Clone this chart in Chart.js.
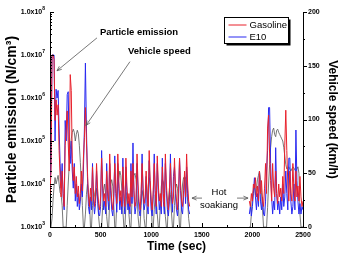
<!DOCTYPE html>
<html>
<head>
<meta charset="utf-8">
<script src="https://cdn.jsdelivr.net/npm/chart.js@4.4.1/dist/chart.umd.min.js"></script>
<style>
  html, body { margin: 0; padding: 0; background: #fff; }
  canvas { display: block; }
</style>
</head>
<body>
<canvas id="chart" width="338" height="254"></canvas>
<script>
// samples every 10 s: cold start + stabilized phase, then hot start after the soak
const coldStart = 0;
const hotStart = 1970;
const stepSec = 10;

const seriesLabels = ["Gasoline", "E10", "Vehicle speed"];

// particle number, N/cm3
const gasolineCold = [
  6e3, 2e4, 1e7, 1e7, 8e6, 3e5, 9e5, 4e5, 7e5, 6e4,
  1.5e4, 5e3, 2e4, 6e3, 3e3, 8e4, 2e5, 5e5, 9e4, 2e4,
  3.5e6, 1.5e6, 4e4, 1.2e4, 2.5e4, 6e3, 1.5e4, 5e3, 9e3, 3.5e3,
  6e3, 2e4, 7e3, 4e4, 1.2e5, 6e5, 1e5, 2e4, 5e3, 3e3,
  8e3, 4e3, 2.5e4, 6e3, 3e3, 5e3, 3e4, 8e3, 3.5e3, 2.5e3,
  5e3, 4e4, 1e4, 4e3, 6e3, 3e3, 2e4, 7e3, 4e3, 5e4,
  1e4, 4e3, 2.5e3, 6e3, 3e4, 8e3, 3.5e3, 5e4, 1.2e4, 4e3,
  7e3, 3e3, 2.5e4, 6e3, 3e3, 4e4, 9e3, 3.5e3, 6e3, 3e3,
  2e4, 5e3, 3e4, 7e3, 3e3, 4e3, 5e4, 1e4, 4e3, 2.5e3,
  6e3, 3e4, 8e3, 3.5e3, 5e3, 2e4, 5e3, 3e3, 6e4, 1.2e4,
  4e3, 2.5e3, 7e3, 3e4, 7e3, 3e3, 4.5e4, 1e4, 4e3, 6e3,
  3e3, 2.5e4, 6e3, 3e3, 5e4, 1e4, 4e3, 2.5e3, 6e3, 3e4,
  7e3, 3.5e3, 5e3, 4e4, 9e3, 4e3, 2.5e3, 6e3, 4e4, 1e4,
  4e3, 3e3, 7e3, 2e4, 5e3, 5e4, 1e4, 4e3, 3e3
];
const e10Cold = [
  8e3, 3e4, 1e7, 1e7, 1e7, 1e5, 1.6e6, 1e6, 1.5e6, 2e5,
  3e4, 8e3, 3e4, 5e3, 2.5e3, 3e5, 1e5, 1.2e6, 1.4e6, 5e4,
  3e4, 1e5, 2e4, 8e3, 3e4, 4e3, 1e4, 3e3, 6e3, 2.5e3,
  4e3, 1e4, 5e3, 2e4, 2e5, 6.5e6, 2e5, 1.5e4, 3e3, 2e3,
  5e3, 2.5e3, 3e4, 4e3, 2e3, 3.5e3, 2e4, 5e3, 2e3, 1.8e3,
  3e3, 6e4, 8e3, 2.5e3, 4e3, 2e3, 3e4, 5e3, 2.5e3, 3e4,
  7e3, 2.5e3, 1.8e3, 4e3, 4.5e4, 6e3, 2.2e3, 3e4, 8e3, 2.5e3,
  5e3, 2e3, 4e4, 4e3, 2e3, 2.5e4, 6e3, 2.5e3, 4e3, 2e3,
  3e4, 3.5e3, 9e4, 5e3, 2e3, 3e3, 3e4, 7e3, 2.5e3, 1.8e3,
  4e3, 5e4, 6e3, 2.5e3, 3.5e3, 1.5e4, 3e3, 2e3, 3.5e4, 8e3,
  2.5e3, 1.8e3, 5e3, 5e4, 5e3, 2e3, 3e4, 7e3, 2.5e3, 4e3,
  2e3, 4e4, 4e3, 2e3, 3e4, 7e3, 2.5e3, 1.8e3, 4e3, 5e4,
  5e3, 2.2e3, 1.5e4, 2.5e4, 6e3, 2.5e3, 1.8e3, 4e3, 4e4, 7e3,
  2.5e3, 2e3, 5e3, 1.5e4, 3.5e3, 2.5e4, 6e3, 2.5e3, 2e3
];
const gasolineHot = [
  4e3, 3e3, 6e3, 4e3, 1e4, 8e3, 1.4e4, 5e3, 9e3, 4e3,
  2e4, 6e3, 1.2e4, 4e3, 3e3, 8e3, 3e4, 6e3, 2e5, 4e5,
  5e4, 1.2e4, 4e3, 3e4, 8e3, 5e3, 2e4, 6e3, 3.5e3, 1e4,
  5e3, 8e3, 4e3, 1.5e4, 6e3, 8e4, 5.2e5, 6e4, 1e4, 4e3,
  2e4, 6e3, 4e3, 3e4, 7e3, 4e3, 2e4, 5e3, 9e3, 4e3,
  1.5e4, 5e3, 3e3, 4e3
];
const e10Hot = [
  2e3, 3e3, 1.8e3, 3e3, 6e3, 1.4e4, 5e3, 2.5e3, 6e3, 3e3,
  2e4, 4e3, 2.5e3, 5e3, 2e3, 1.8e3, 4e3, 2e4, 6e4, 6e5,
  6e5, 3e4, 5e3, 2e3, 4e3, 2.5e3, 7e4, 6e3, 2.5e3, 4e3,
  2e3, 5e3, 2.5e3, 1e4, 3e3, 5e3, 2e4, 6e3, 2.5e3, 4e4,
  4e4, 4e3, 2e3, 3e3, 1e4, 2.5e3, 1.8e5, 1.2e4, 4e3, 2e3,
  3.5e3, 2e3, 3e3, 2.5e3
];

// vehicle speed, km/h
const speedCold = [
  0, 0, 8, 25, 38, 46, 40, 44, 48, 40,
  32, 30, 20, 0, 0, 0, 0, 20, 40, 58,
  72, 82, 88, 91, 88, 80, 86, 90, 87, 76,
  60, 40, 20, 0, 0, 12, 30, 40, 32, 25,
  0, 0, 20, 35, 30, 25, 36, 28, 10, 0,
  0, 0, 18, 34, 40, 30, 10, 0, 0, 25,
  40, 44, 38, 20, 0, 0, 22, 38, 45, 52,
  48, 35, 15, 0, 0, 20, 32, 28, 12, 0,
  0, 24, 40, 48, 50, 44, 30, 10, 0, 0,
  20, 34, 28, 8, 0, 0, 22, 38, 46, 40,
  24, 0, 0, 16, 30, 26, 12, 0, 0, 20,
  38, 44, 42, 30, 10, 0, 0, 25, 36, 30,
  14, 0, 0, 20, 35, 40, 36, 18, 0, 0,
  24, 40, 46, 44, 46, 40, 24, 8, 0
];
const speedHot = [
  0, 0, 12, 28, 34, 38, 30, 36, 44, 48,
  52, 44, 32, 16, 0, 0, 0, 0, 18, 40,
  58, 74, 84, 90, 92, 86, 84, 90, 91, 88,
  86, 84, 82, 80, 74, 66, 58, 54, 55, 56,
  54, 52, 54, 56, 55, 53, 52, 54, 56, 50,
  12, 0, 0, 0
];

const leftDecades = [3, 4, 5, 6, 7, 8];
const speedTicks = [0, 50, 100, 150, 200];
const timeTicks = [0, 500, 1000, 1500, 2000, 2500];

// cold and hot phases joined with a null so the soak shows as a gap
function toPoints(cold, hot) {
  const pts = cold.map((v, i) => ({ x: coldStart + i * stepSec, y: v }));
  pts.push({ x: (coldStart + cold.length * stepSec + hotStart) / 2, y: null });
  hot.forEach((v, i) => pts.push({ x: hotStart + i * stepSec, y: v }));
  return pts;
}

const annotations = {
  particle: { text: "Particle emission", x: 494, y: 3.3e7, from: [464, 2.5e7], to: [69, 4.3e6] },
  speed: { text: "Vehicle speed", x: 770, y: 1.2e7, from: [790, 7e6], to: [356, 2.3e5] },
  soak: { lines: ["Hot", "soakiang"], x: 1670, y: [6.5e3, 3.2e3], arrowY: 4.7e3,
          left: [1502, 1403], right: [1848, 1957] }
};

function arrow(ctx, x1, y1, x2, y2) {
  ctx.beginPath();
  ctx.moveTo(x1, y1);
  ctx.lineTo(x2, y2);
  ctx.stroke();
  const a = Math.atan2(y2 - y1, x2 - x1);
  const len = 5;
  ctx.beginPath();
  ctx.moveTo(x2 - len * Math.cos(a - 0.4), y2 - len * Math.sin(a - 0.4));
  ctx.lineTo(x2, y2);
  ctx.lineTo(x2 - len * Math.cos(a + 0.4), y2 - len * Math.sin(a + 0.4));
  ctx.stroke();
}

const decorations = {
  id: "decorations",
  afterDraw(chart) {
    const ctx = chart.ctx;
    const area = chart.chartArea;
    const xs = chart.scales.x, ys = chart.scales.y, y2 = chart.scales.y2;
    ctx.save();
    ctx.strokeStyle = "#000";
    ctx.lineWidth = 1;

    // left log ticks, inward
    ys.ticks.forEach(t => {
      const lg = Math.log10(t.value);
      const major = Math.abs(lg - Math.round(lg)) < 1e-6;
      const py = Math.round(ys.getPixelForValue(t.value)) + 0.5;
      ctx.beginPath();
      ctx.moveTo(area.left, py);
      ctx.lineTo(area.left + (major ? 4 : 2), py);
      ctx.stroke();
    });
    // left labels 1.0x10^n
    ctx.fillStyle = "#000";
    ctx.textBaseline = "middle";
    leftDecades.forEach(d => {
      const py = ys.getPixelForValue(Math.pow(10, d));
      ctx.font = "bold 5px Arial";
      const ew = ctx.measureText(String(d)).width;
      ctx.textAlign = "left";
      ctx.fillText(String(d), 45 - ew, py - 3);
      ctx.font = "bold 7px Arial";
      ctx.textAlign = "right";
      ctx.fillText("1.0x10", 45 - ew, py + 0.5);
    });

    // right axis ticks, outward
    for (let i = 0; i < speedTicks.length; i++) {
      const py = Math.round(y2.getPixelForValue(speedTicks[i])) + 0.5;
      ctx.beginPath();
      ctx.moveTo(area.right, py);
      ctx.lineTo(area.right + 4, py);
      ctx.stroke();
      if (i > 0) {
        const pm = Math.round(y2.getPixelForValue((speedTicks[i] + speedTicks[i - 1]) / 2)) + 0.5;
        ctx.beginPath();
        ctx.moveTo(area.right, pm);
        ctx.lineTo(area.right + 2, pm);
        ctx.stroke();
      }
    }
    // bottom ticks, inward
    for (let i = 0; i < timeTicks.length; i++) {
      const px = Math.round(xs.getPixelForValue(timeTicks[i])) + 0.5;
      ctx.beginPath();
      ctx.moveTo(px, area.bottom);
      ctx.lineTo(px, area.bottom - 4);
      ctx.stroke();
      if (i > 0) {
        const pm = Math.round(xs.getPixelForValue((timeTicks[i] + timeTicks[i - 1]) / 2)) + 0.5;
        ctx.beginPath();
        ctx.moveTo(pm, area.bottom);
        ctx.lineTo(pm, area.bottom - 2);
        ctx.stroke();
      }
    }

    // legend box with drop shadow
    const lx = 224.5, ly = 17.5, lw = 64, lh = 26;
    ctx.fillStyle = "#000";
    ctx.fillRect(lx + 2, ly + 2, lw, lh);
    ctx.fillStyle = "#fff";
    ctx.fillRect(lx, ly, lw, lh);
    ctx.strokeRect(lx, ly, lw, lh);
    ctx.font = "9.5px Arial";
    ctx.textAlign = "left";
    chart.data.datasets.slice(0, 2).forEach((ds, i) => {
      const ry = ly + 7.5 + i * 12;
      ctx.strokeStyle = ds.borderColor;
      ctx.beginPath();
      ctx.moveTo(lx + 4, ry);
      ctx.lineTo(lx + 22, ry);
      ctx.stroke();
      ctx.fillStyle = "#000";
      ctx.fillText(ds.label, lx + 25, ry + 0.5);
    });

    // annotations
    ctx.strokeStyle = "#555";
    ctx.lineWidth = 0.8;
    ctx.fillStyle = "#000";
    ctx.font = "bold 9.5px Arial";
    ctx.textAlign = "left";
    [annotations.particle, annotations.speed].forEach(a => {
      ctx.fillText(a.text, xs.getPixelForValue(a.x), ys.getPixelForValue(a.y));
      arrow(ctx, xs.getPixelForValue(a.from[0]), ys.getPixelForValue(a.from[1]),
        xs.getPixelForValue(a.to[0]), ys.getPixelForValue(a.to[1]));
    });
    const s = annotations.soak;
    ctx.font = "9.5px Arial";
    ctx.textAlign = "center";
    s.lines.forEach((txt, i) => {
      ctx.fillText(txt, xs.getPixelForValue(s.x), ys.getPixelForValue(s.y[i]));
    });
    const ay = ys.getPixelForValue(s.arrowY);
    arrow(ctx, xs.getPixelForValue(s.left[0]), ay, xs.getPixelForValue(s.left[1]), ay);
    arrow(ctx, xs.getPixelForValue(s.right[0]), ay, xs.getPixelForValue(s.right[1]), ay);

    ctx.restore();
  }
};

const tickFont = { family: "Arial", size: 7, weight: "bold" };

new Chart(document.getElementById("chart"), {
  type: "line",
  data: {
    datasets: [
      { label: seriesLabels[0], data: toPoints(gasolineCold, gasolineHot), yAxisID: "y",
        borderColor: "#e8202a", borderWidth: 1 },
      { label: seriesLabels[1], data: toPoints(e10Cold, e10Hot), yAxisID: "y",
        borderColor: "#2828f0", borderWidth: 1 },
      { label: seriesLabels[2], data: toPoints(speedCold, speedHot), yAxisID: "y2",
        borderColor: "#555", borderWidth: 0.8 }
    ]
  },
  options: {
    responsive: false,
    animation: false,
    devicePixelRatio: 1,
    layout: { padding: { top: 12, left: 0, right: 0, bottom: 0 } },
    elements: { point: { radius: 0 }, line: { tension: 0 } },
    plugins: { legend: { display: false }, tooltip: { enabled: false } },
    scales: {
      x: {
        type: "linear", min: 0, max: 2500,
        grid: { display: false, drawTicks: false },
        border: { display: true, color: "#000", width: 1 },
        ticks: { stepSize: 500, font: tickFont, color: "#000", padding: 4, maxRotation: 0,
          callback: v => String(v) },
        title: { display: true, text: "Time (sec)", color: "#000",
          font: { family: "Arial", size: 12, weight: "bold", lineHeight: 1.2 }, padding: 0 },
        afterFit: s => { s.height = 27; }
      },
      y: {
        type: "logarithmic", position: "left", min: 1e3, max: 1e8,
        grid: { display: false, drawTicks: false },
        border: { display: true, color: "#000", width: 1 },
        ticks: { display: false, autoSkip: false },
        title: { display: true, text: "Particle emission (N/cm³)", color: "#000",
          font: { family: "Arial", size: 14, weight: "bold", lineHeight: 1.2 }, padding: { top: 4, bottom: 0 } },
        afterFit: s => { s.width = 50; }
      },
      y2: {
        type: "linear", position: "right", min: 0, max: 200,
        grid: { display: false, drawTicks: false },
        border: { display: true, color: "#000", width: 1 },
        ticks: { stepSize: 50, font: tickFont, color: "#000", padding: 5,
          callback: v => String(v) },
        title: { display: true, text: "Vehicle speed (km/h)", color: "#000",
          font: { family: "Arial", size: 12, weight: "bold", lineHeight: 1 }, padding: 0 },
        afterFit: s => { s.width = 35; }
      }
    }
  },
  plugins: [decorations]
});
</script>
</body>
</html>
